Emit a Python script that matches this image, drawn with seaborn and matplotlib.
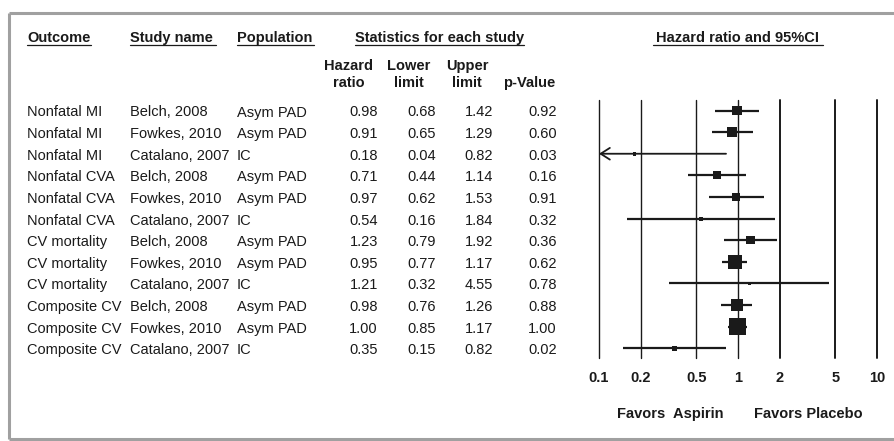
import numpy as np
import pandas as pd
import matplotlib
matplotlib.use("Agg")
import matplotlib.pyplot as plt
import seaborn as sns

# ---------------- data ----------------
outcomes = ["Nonfatal MI", "Nonfatal MI", "Nonfatal MI",
            "Nonfatal CVA", "Nonfatal CVA", "Nonfatal CVA",
            "CV mortality", "CV mortality", "CV mortality",
            "Composite CV", "Composite CV", "Composite CV"]
studies = ["Belch, 2008", "Fowkes, 2010", "Catalano, 2007"] * 4
populations = ["Asym PAD", "Asym PAD", "IC"] * 4
hazard_ratio = [0.98, 0.91, 0.18, 0.71, 0.97, 0.54, 1.23, 0.95, 1.21, 0.98, 1.00, 0.35]
lower_limit = [0.68, 0.65, 0.04, 0.44, 0.62, 0.16, 0.79, 0.77, 0.32, 0.76, 0.85, 0.15]
upper_limit = [1.42, 1.29, 0.82, 1.14, 1.53, 1.84, 1.92, 1.17, 4.55, 1.26, 1.17, 0.82]
p_values = [0.92, 0.60, 0.03, 0.16, 0.91, 0.32, 0.36, 0.62, 0.78, 0.88, 1.00, 0.02]
tick_values = [0.1, 0.2, 0.5, 1, 2, 5, 10]
tick_labels = ["0.1", "0.2", "0.5", "1", "2", "5", "10"]

# ---------------- style ----------------
sns.set_theme(style="white")
plt.rcParams["font.family"] = ["Liberation Sans", "DejaVu Sans"]
FS = 10.5
INK = "#1a1a1a"

W, H = 895, 441
fig = plt.figure(figsize=(W / 100, H / 100), dpi=100)

# overlay axes in pixel coordinates for table text
tax = fig.add_axes([0, 0, 1, 1])
tax.set_xlim(0, W)
tax.set_ylim(H, 0)
tax.axis("off")


def put(x, y, s, ha="left", bold=False):
    tax.text(x, y, s, fontsize=FS, fontweight="bold" if bold else "normal",
             ha=ha, va="baseline", color=INK)


# frame
frame_c = "#a0a0a0"
tax.plot([9, 9], [13, 439], color=frame_c, lw=2.2, solid_capstyle="butt")
tax.plot([9, W], [13, 13], color=frame_c, lw=2.2, solid_capstyle="butt")
tax.plot([9, W], [439, 439], color=frame_c, lw=2.2, solid_capstyle="butt")

# headers
hb = 42
uy = 44.5
put(27, hb, "Outcome", bold=True)
tax.plot([27, 91], [uy, uy], color=INK, lw=0.9)
put(130, hb, "Study name", bold=True)
tax.plot([130, 216], [uy, uy], color=INK, lw=0.9)
put(237, hb, "Population", bold=True)
tax.plot([237, 314], [uy, uy], color=INK, lw=0.9)
put(440, hb, "Statistics for each study", ha="center", bold=True)
tax.plot([355, 524], [uy, uy], color=INK, lw=0.9)
put(738, hb, "Hazard ratio and 95%CI", ha="center", bold=True)
tax.plot([653, 823], [uy, uy], color=INK, lw=0.9)

for x, l1, l2 in [(349, "Hazard", "ratio"), (409, "Lower", "limit"), (467, "Upper", "limit")]:
    put(x, 70, l1, ha="center", bold=True)
    put(x, 87, l2, ha="center", bold=True)
put(529, 87, "p-Value", ha="center", bold=True)

# rows
y0, dy = 110.5, 21.62
n = len(hazard_ratio)
for i in range(n):
    yb = y0 + dy * i + 6
    put(27, yb, outcomes[i])
    put(130, yb, studies[i])
    put(237, yb, populations[i])
    put(378, yb, f"{hazard_ratio[i]:.2f}", ha="right")
    put(436, yb, f"{lower_limit[i]:.2f}", ha="right")
    put(493, yb, f"{upper_limit[i]:.2f}", ha="right")
    put(557, yb, f"{p_values[i]:.2f}", ha="right")

# ---------------- forest axes ----------------
ax_left, ax_right, ax_top, ax_bot = 599, 877, 100, 358
fax = fig.add_axes([ax_left / W, 1 - ax_bot / H, (ax_right - ax_left) / W, (ax_bot - ax_top) / H])
fax.patch.set_alpha(0)
fax.set_xscale("log")
fax.set_xlim(0.1, 10)
ytop = -(y0 - ax_top) / dy
ybot = (n - 1) + (ax_bot - (y0 + dy * (n - 1))) / dy
fax.set_ylim(ybot, ytop)
for s in fax.spines.values():
    s.set_visible(False)
fax.set_yticks([])

for v in tick_values:
    fax.axvline(v, color=INK, lw=1.0 if v <= 1 else 1.4, clip_on=False, zorder=1)

rows = np.arange(n)
df = pd.DataFrame({"hr": hazard_ratio, "lo": lower_limit, "hi": upper_limit, "row": rows})
se = (np.log(df["hi"]) - np.log(df["lo"])) / 3.92
w = 1 / se ** 2
side_px = np.maximum(17 * (w / w.max()) ** 0.35, 3.0)
df["area"] = (side_px * 0.72) ** 2

for _, r in df.iterrows():
    if r["lo"] < 0.1:
        fax.annotate("", xy=(0.1, r["row"]), xytext=(r["hi"], r["row"]),
                     arrowprops=dict(arrowstyle="->,head_length=0.55,head_width=0.35",
                                     color=INK, lw=1.3, shrinkA=0, shrinkB=0),
                     annotation_clip=False, zorder=2)
    else:
        fax.plot([r["lo"], r["hi"]], [r["row"], r["row"]], color=INK, lw=1.6,
                 solid_capstyle="butt", zorder=2)

sns.scatterplot(data=df, x="hr", y="row", size="area",
                sizes={a: a for a in df["area"]}, marker="s", color=INK,
                linewidth=0, legend=False, ax=fax, zorder=3)
fax.set_xlim(0.1, 10)
fax.set_ylim(ybot, ytop)
fax.set_xlabel("")
fax.set_ylabel("")

fax.set_xticks(tick_values)
fax.set_xticklabels(tick_labels)
fax.minorticks_off()
fax.tick_params(axis="x", length=0, pad=9, labelsize=FS, colors=INK)
for t in fax.get_xticklabels():
    t.set_fontweight("bold")

put(670, 418, "Favors  Aspirin", ha="center", bold=True)
put(808, 418, "Favors Placebo", ha="center", bold=True)

fig.savefig("out.png", dpi=100)
